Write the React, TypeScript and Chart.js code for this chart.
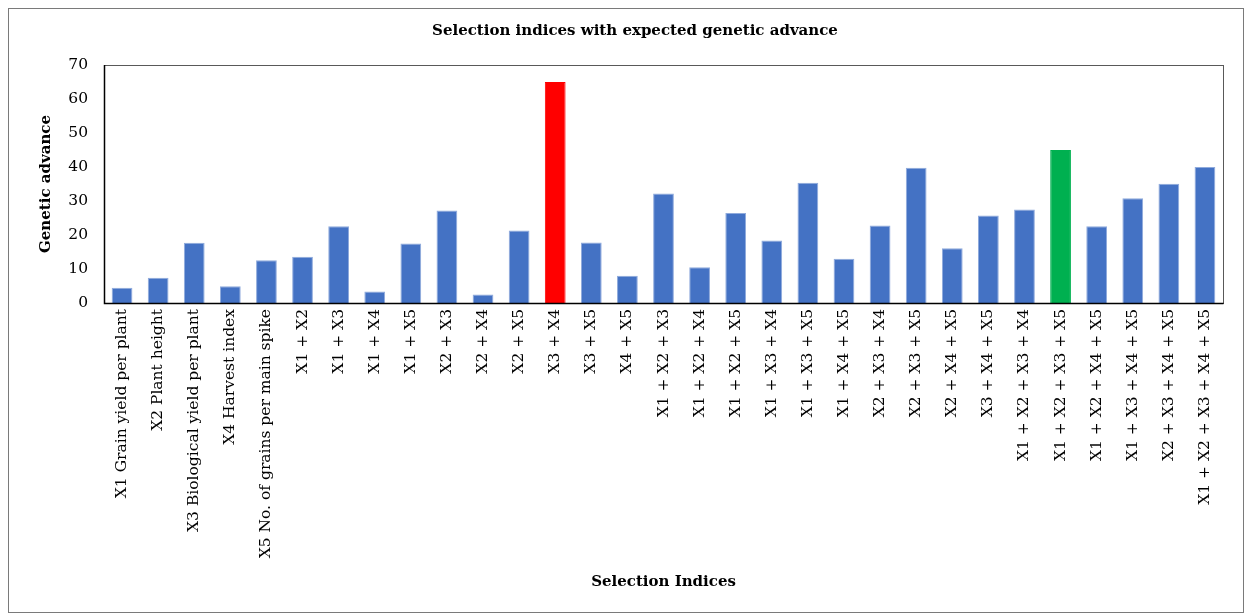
import React, { useEffect, useRef } from "react";
import { Chart, registerables } from "chart.js";

Chart.register(...registerables);

const categories: string[] = [
  "X1 Grain yield per plant",
  "X2 Plant height",
  "X3 Biological yield per plant",
  "X4 Harvest index",
  "X5 No. of grains per main spike",
  "X1 + X2",
  "X1 + X3",
  "X1 + X4",
  "X1 + X5",
  "X2 + X3",
  "X2 + X4",
  "X2 + X5",
  "X3 + X4",
  "X3 + X5",
  "X4 + X5",
  "X1 + X2 + X3",
  "X1 + X2 + X4",
  "X1 + X2 + X5",
  "X1 + X3 + X4",
  "X1 + X3 + X5",
  "X1 + X4 + X5",
  "X2 + X3 + X4",
  "X2 + X3 + X5",
  "X2 + X4 + X5",
  "X3 + X4 + X5",
  "X1 + X2 + X3 + X4",
  "X1 + X2 + X3 + X5",
  "X1 + X2 + X4 + X5",
  "X1 + X3 + X4 + X5",
  "X2 + X3 + X4 + X5",
  "X1 + X2 + X3 + X4 + X5",
];

const geneticAdvance: number[] = [
  4.5, 7.4, 17.7, 4.9, 12.6, 13.6, 22.6, 3.4, 17.5, 27.2, 2.5, 21.3, 65.0,
  17.8, 8.0, 32.2, 10.5, 26.5, 18.4, 35.4, 13.0, 22.8, 39.8, 16.1, 25.7, 27.5,
  45.0, 22.6, 30.8, 35.1, 40.0,
];

const yTicks: number[] = [0, 10, 20, 30, 40, 50, 60, 70];

const chartTitle = "Selection indices with expected genetic advance";
const highlightBest = "X3 + X4";
const highlightSecond = "X1 + X2 + X3 + X5";

const BLUE = "#4472C4";
const RED = "#FF0000";
const GREEN = "#00B050";
const FONT = "'DejaVu Serif', 'Liberation Serif', serif";

const framePlugin = {
  id: "frame",
  afterDraw(chart: any) {
    const { ctx, chartArea } = chart;
    ctx.save();
    ctx.strokeStyle = "#595959";
    ctx.lineWidth = 1;
    ctx.strokeRect(
      Math.round(chartArea.left) + 0.5,
      Math.round(chartArea.top) + 0.5,
      Math.round(chartArea.right - chartArea.left),
      Math.round(chartArea.bottom - chartArea.top)
    );
    ctx.strokeStyle = "#000000";
    ctx.lineWidth = 1.5;
    ctx.beginPath();
    ctx.moveTo(Math.round(chartArea.left) + 0.5, Math.round(chartArea.top));
    ctx.lineTo(Math.round(chartArea.left) + 0.5, Math.round(chartArea.bottom) + 0.5);
    ctx.lineTo(Math.round(chartArea.right) + 0.5, Math.round(chartArea.bottom) + 0.5);
    ctx.stroke();
    // chart title
    ctx.fillStyle = "#000000";
    ctx.font = `bold 15px ${FONT}`;
    ctx.textAlign = "center";
    ctx.textBaseline = "middle";
    ctx.fillText(chartTitle, 626, 22);
    ctx.restore();
  },
};

export default function App() {
  const canvasRef = useRef<HTMLCanvasElement | null>(null);

  useEffect(() => {
    if (!canvasRef.current) return;
    const colors = categories.map((c) =>
      c === highlightBest ? RED : c === highlightSecond ? GREEN : BLUE
    );
    const chart = new Chart(canvasRef.current, {
      type: "bar",
      data: {
        labels: categories,
        datasets: [
          {
            label: "Genetic advance",
            data: geneticAdvance,
            backgroundColor: colors,
            borderColor: colors.map((c) => (c === BLUE ? "#8FAADC" : c)),
            borderWidth: { top: 1, left: 1, right: 1, bottom: 0 },
            barPercentage: 0.575,
            categoryPercentage: 1,
          },
        ],
      },
      options: {
        animation: false,
        responsive: false,
        maintainAspectRatio: false,
        layout: { padding: { left: 0, right: 20, top: 56, bottom: 0 } },
        plugins: {
          legend: { display: false },
          tooltip: { enabled: false },
          title: { display: false },
        },
        scales: {
          x: {
            grid: { display: false, drawTicks: false },
            border: { display: false },
            ticks: {
              color: "#000000",
              font: { family: FONT, size: 15.5 },
              maxRotation: 90,
              minRotation: 90,
              autoSkip: false,
              padding: 6,
            },
            title: {
              display: true,
              text: "Selection Indices",
              color: "#000000",
              font: { family: FONT, size: 15, weight: "bold" },
              padding: { top: 0, bottom: 21 },
            },
            afterFit(scale: any) {
              scale.height = 309;
            },
          },
          y: {
            min: 0,
            max: 70,
            afterBuildTicks(scale: any) {
              scale.ticks = yTicks.map((v) => ({ value: v }));
            },
            grid: { display: false, drawTicks: false },
            border: { display: false },
            ticks: {
              color: "#000000",
              font: { family: FONT, size: 15.5 },
              padding: 16,
            },
            title: {
              display: true,
              text: "Genetic advance",
              color: "#000000",
              font: { family: FONT, size: 15, weight: "bold" },
              padding: { top: 28, bottom: 0 },
            },
            afterFit(scale: any) {
              scale.width = 95;
            },
          },
        },
      },
      plugins: [framePlugin],
    });
    return () => chart.destroy();
  }, []);

  return (
    <div
      style={{
        width: 1234,
        height: 603,
        border: "1px solid #7a7a7a",
        background: "#ffffff",
      }}
    >
      <canvas ref={canvasRef} width={1234} height={603} style={{ display: "block" }} />
    </div>
  );
}
